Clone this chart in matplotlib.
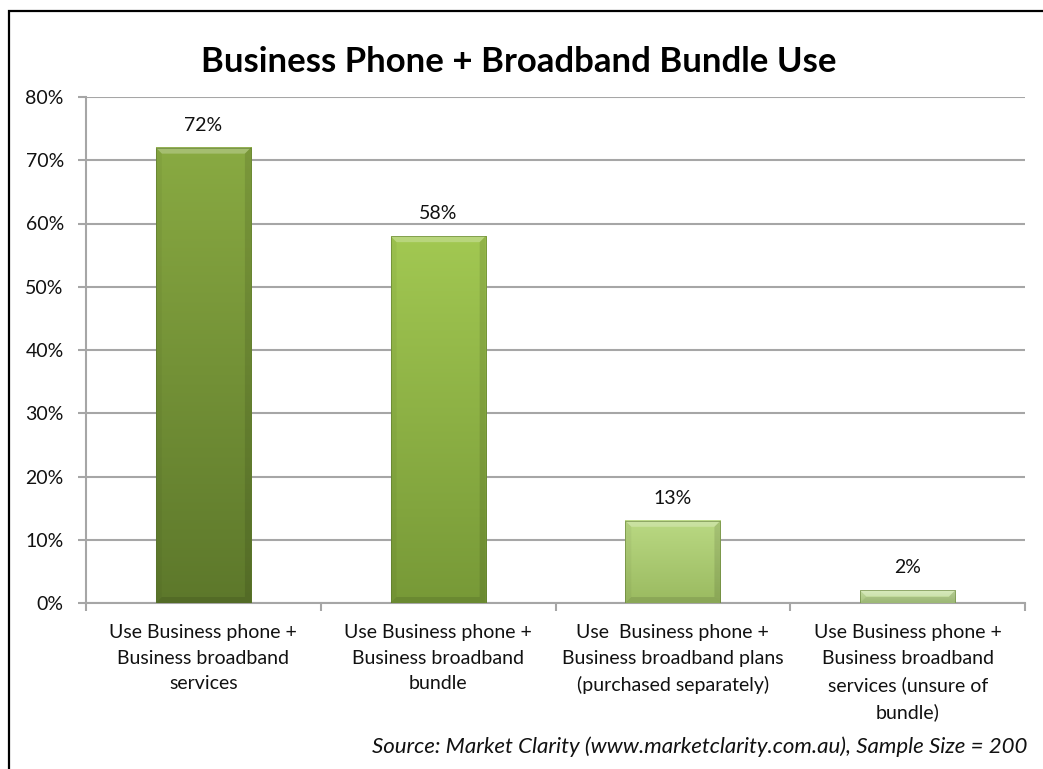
import numpy as np
import matplotlib
matplotlib.use("Agg")
import matplotlib.pyplot as plt
from matplotlib.colors import LinearSegmentedColormap
from matplotlib.patches import Rectangle, Polygon

plt.rcParams["font.family"] = ["Lato", "DejaVu Sans"]

categories = [
    "Use Business phone +\nBusiness broadband\nservices",
    "Use Business phone +\nBusiness broadband\nbundle",
    "Use  Business phone +\nBusiness broadband plans\n(purchased separately)",
    "Use Business phone +\nBusiness broadband\nservices (unsure of\nbundle)",
]
values = [72, 58, 13, 2]
# top / bottom shade of each bar's gradient
top_colors = ["#89aa42", "#a2c852", "#bad983", "#cbe4a6"]
bottom_colors = ["#5d782b", "#779937", "#9aba60", "#aecd82"]

title = "Business Phone + Broadband Bundle Use"
source = "Source: Market Clarity (www.marketclarity.com.au), Sample Size = 200"

W, H = 1043, 769
fig = plt.figure(figsize=(W / 100, H / 100), dpi=100)
ax = fig.add_axes([86 / W, 1 - 603 / H, (1025 - 86) / W, (603 - 97) / H])

x = np.arange(len(values))
bars = ax.bar(x, values, width=0.405, color="none", edgecolor="none", zorder=3)

ax.set_xlim(-0.5, len(values) - 0.5)
ax.set_ylim(0, 80)

# pixel -> data scale factors for the bevel
px_x = 1.0 / ((1025 - 86) / len(values))
px_y = 80.0 / (603 - 97)

for rect, v, c0, c1 in zip(bars, values, top_colors, bottom_colors):
    x0, y0 = rect.get_x(), rect.get_y()
    w, h = rect.get_width(), rect.get_height()
    cmap = LinearSegmentedColormap.from_list("g", [c0, c1])
    grad = np.linspace(0, 1, 256).reshape(-1, 1)
    ax.imshow(grad, cmap=cmap, extent=(x0, x0 + w, y0, y0 + h), aspect="auto",
              origin="upper", zorder=3, interpolation="bicubic")
    bx, by = 6 * px_x, min(6 * px_y, h / 2)
    # lighter bevel along the top edge
    ax.add_patch(Polygon([(x0, y0 + h), (x0 + w, y0 + h), (x0 + w - bx, y0 + h - by),
                          (x0 + bx, y0 + h - by)], closed=True,
                         facecolor="white", alpha=0.25, edgecolor="none", zorder=4))
    # darker bevels on the sides and bottom
    ax.add_patch(Polygon([(x0 + w, y0 + h), (x0 + w, y0), (x0 + w - bx, y0 + by),
                          (x0 + w - bx, y0 + h - by)], closed=True,
                         facecolor="black", alpha=0.10, edgecolor="none", zorder=4))
    ax.add_patch(Polygon([(x0, y0), (x0 + w, y0), (x0 + w - bx, y0 + by), (x0 + bx, y0 + by)],
                         closed=True, facecolor="black", alpha=0.10, edgecolor="none", zorder=4))
    ax.add_patch(Polygon([(x0, y0 + h), (x0, y0), (x0 + bx, y0 + by), (x0 + bx, y0 + h - by)],
                         closed=True, facecolor="black", alpha=0.04, edgecolor="none", zorder=4))
    ax.add_patch(Rectangle((x0, y0), w, h, facecolor="none", edgecolor="#55702a",
                           linewidth=0.6, alpha=0.6, zorder=5))
    ax.annotate(f"{v}%", (x0 + w / 2, y0 + h), xytext=(0, 10), textcoords="offset points",
                ha="center", va="bottom", fontsize=14, color="#111111")

# axes styling
for side in ["top", "right"]:
    ax.spines[side].set_visible(False)
ax.spines["left"].set_color("#a6a6a6")
ax.spines["bottom"].set_color("#a6a6a6")
ax.spines["left"].set_linewidth(1.5)
ax.spines["bottom"].set_linewidth(1.5)
ax.spines["bottom"].set_zorder(2)

ax.set_yticks(range(0, 81, 10))
ax.set_yticklabels([f"{t}%" for t in range(0, 81, 10)])
ax.yaxis.grid(True, color="#a6a6a6", linewidth=1.5, zorder=1)
ax.set_axisbelow(True)
ax.tick_params(axis="y", length=6, width=1.5, color="#a6a6a6", pad=10, labelsize=14,
               labelcolor="#111111")

ax.set_xticks(x)
ax.set_xticklabels(categories, fontsize=14, color="#111111", linespacing=1.62)
ax.tick_params(axis="x", which="major", length=0, pad=15)
ax.set_xticks(np.arange(-0.5, len(values)), minor=True)
ax.tick_params(axis="x", which="minor", length=6, width=1.5, color="#a6a6a6")

fig.text(0.497, 1 - 62 / H, title, ha="center", va="center", fontsize=25,
         fontweight="bold", color="#000000")
fig.text(1027 / W, 1 - 747 / H, source, ha="right", va="center", fontsize=16,
         style="italic", color="#111111")

# outer frame (top and left edges fall inside the canvas)
fig.add_artist(Rectangle((9 / W, -0.1), 1.2, 1 - 11 / H + 0.1, transform=fig.transFigure,
                         facecolor="none", edgecolor="black", linewidth=1.6))

fig.savefig("out.png", dpi=100)
